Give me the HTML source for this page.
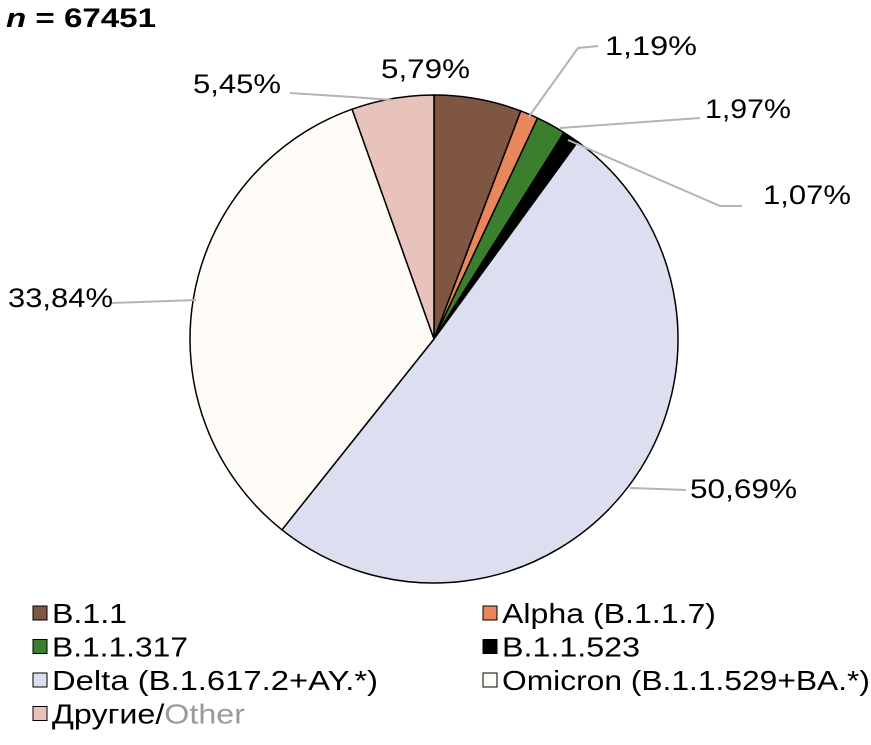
<!DOCTYPE html>
<html><head><meta charset="utf-8"><style>
body{margin:0;background:#fff;width:871px;height:740px;overflow:hidden;font-family:"Liberation Sans",sans-serif;}
svg text{font-family:"Liberation Sans","Noto Sans CJK SC",sans-serif;}
</style></head><body>
<svg width="871" height="740">
<text x="6" y="27" font-size="27" font-weight="bold" textLength="150" lengthAdjust="spacingAndGlyphs"><tspan font-style="italic">n</tspan> = 67451</text>
<g id="slices"></g>
<g id="leaders" stroke="#b3b3b3" stroke-width="2" fill="none">
<polyline points="290,93 352,97 392,100"/>
<polyline points="598,46 578,48 528,118"/>
<polyline points="700,118 560,128"/>
<polyline points="742,206 720,206 568,140"/>
<polyline points="686,490 630,488"/>
<polyline points="112,303 196,300"/>
</g>
<g font-size="27" fill="#000">
<text x="381" y="78" textLength="89" lengthAdjust="spacingAndGlyphs">5,79%</text>
<text x="605" y="55" textLength="92" lengthAdjust="spacingAndGlyphs">1,19%</text>
<text x="705" y="118" textLength="86" lengthAdjust="spacingAndGlyphs">1,97%</text>
<text x="763" y="204" textLength="88" lengthAdjust="spacingAndGlyphs">1,07%</text>
<text x="690" y="498" textLength="107" lengthAdjust="spacingAndGlyphs">50,69%</text>
<text x="8" y="307" textLength="105" lengthAdjust="spacingAndGlyphs">33,84%</text>
<text x="193" y="93" textLength="88" lengthAdjust="spacingAndGlyphs">5,45%</text>
</g>
<g id="legend" font-size="28"></g>
</svg>
<script>
const categories=["B.1.1","Alpha (B.1.1.7)","B.1.1.317","B.1.1.523","Delta (B.1.617.2+AY.*)","Omicron (B.1.1.529+BA.*)","Other"];
const values=[5.79,1.19,1.97,1.07,50.69,33.84,5.45];
const colors=["#7f5641","#e8865c","#3b7e2d","#000000","#dcdff0","#fffcf7","#e8c3bb"];
const legendWidths=[75,214,136,138,326,368,193];
const NS="http://www.w3.org/2000/svg";
const cx=434,cy=339,r=244;
const total=values.reduce((a,b)=>a+b,0);
const g=document.getElementById('slices');
let acc=0;
function pt(f){const a=f*2*Math.PI-Math.PI/2;return [cx+r*Math.cos(a),cy+r*Math.sin(a)];}
values.forEach((v,i)=>{
 const f0=acc/total;acc+=v;const f1=acc/total;
 const p0=pt(f0),p1=pt(f1);const large=(f1-f0)>0.5?1:0;
 const p=document.createElementNS(NS,'path');
 p.setAttribute('d',`M${cx},${cy}L${p0[0]},${p0[1]}A${r},${r} 0 ${large} 1 ${p1[0]},${p1[1]}Z`);
 p.setAttribute('fill',colors[i]);p.setAttribute('stroke','#000');p.setAttribute('stroke-width','1.5');
 
 
 g.appendChild(p);
});
const lg=document.getElementById('legend');
categories.forEach((c,i)=>{
 const col=i%2,row=Math.floor(i/2);
 const x=col?483:33,y=606+row*33.5;
 const s=document.createElementNS(NS,'rect');
 s.setAttribute('x',x);s.setAttribute('y',y);s.setAttribute('width',14);s.setAttribute('height',14);
 s.setAttribute('fill',colors[i]);s.setAttribute('stroke','#000');s.setAttribute('stroke-width','1');
 
 
 lg.appendChild(s);
 const t=document.createElementNS(NS,'text');
 t.setAttribute('x',x+19);t.setAttribute('y',y+17);
 if(i===6){t.innerHTML='Другие/<tspan fill="#9a9a9a">Other</tspan>';}else t.textContent=c;
 t.setAttribute('textLength',legendWidths[i]);
 t.setAttribute('lengthAdjust','spacingAndGlyphs');
 
 
 lg.appendChild(t);
});
</script>
</body></html>
